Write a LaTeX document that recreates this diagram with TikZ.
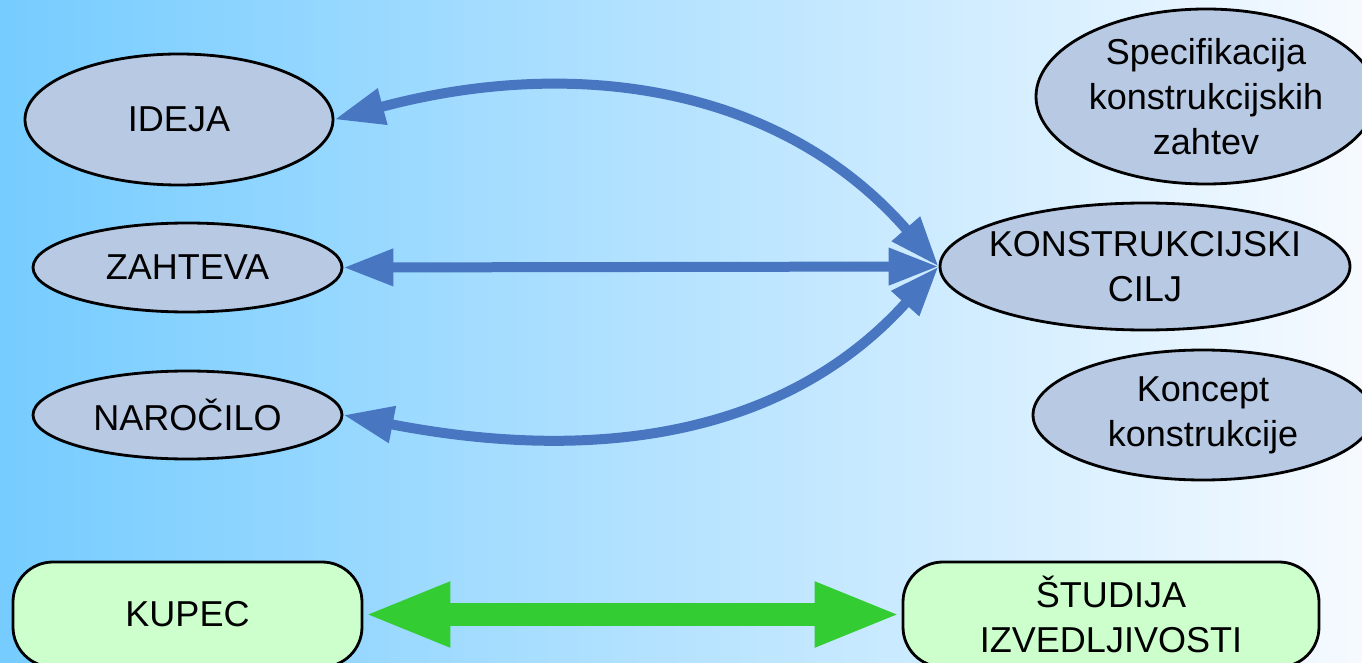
\documentclass[tikz,border=0pt]{standalone}
\usepackage{fontspec}
\setmainfont{Liberation Sans}
\usepackage{tikz}
\usetikzlibrary{positioning, shapes.geometric, arrows.meta}

\definecolor{bgleft}{RGB}{118,204,255}
\definecolor{bgright}{RGB}{246,250,255}
\definecolor{pojemfill}{RGB}{184,201,228}
\definecolor{blokfill}{RGB}{204,255,204}
\definecolor{modra}{RGB}{72,118,192}
\definecolor{zelena}{RGB}{51,204,51}

\tikzset{
  pojem/.style={ellipse, draw=black, line width=1.6pt, fill=pojemfill,
    inner sep=0pt, align=center, font=\fontsize{20.5}{25.5}\selectfont},
  blok/.style={rectangle, rounded corners=0.8cm, draw=black, line width=1.6pt,
    fill=blokfill, inner sep=0pt, minimum height=2.1cm, align=center,
    font=\fontsize{20.5}{25.5}\selectfont},
  povezava/.style={draw=modra, line width=0.2cm,
    {Triangle[length=1cm,width=0.7cm]}-{Triangle[length=1cm,width=0.7cm]}},
  debela/.style={draw=zelena, line width=0.46cm,
    {Triangle[length=1.74cm,width=1.18cm]}-{Triangle[length=1.74cm,width=1.18cm]}}
}

\begin{document}
\begin{tikzpicture}
% background
\useasboundingbox (0,0) rectangle (27.24,13.24);
\shade[left color=bgleft, right color=bgright] (0,0) rectangle (27.24,13.24);

% left ellipses
\node[pojem, minimum width=6.16cm, minimum height=2.62cm] (ideja) at (3.58,10.85) {IDEJA};
\node[pojem, minimum width=6.18cm, minimum height=1.78cm] (zahteva) at (3.75,7.89) {ZAHTEVA};
\node[pojem, minimum width=6.18cm, minimum height=1.76cm] (narocilo) at (3.75,4.94) {NAROČILO};

% right ellipses
\node[pojem, minimum width=6.8cm, minimum height=3.5cm] (spec) at (24.12,11.31)
    {Specifikacija\\konstrukcijskih\\zahtev};
\node[pojem, inner xsep=-0.45cm, minimum width=8.2cm, minimum height=2.54cm] (cilj) at (22.9,7.91)
    {KONSTRUKCIJSKI\\CILJ};
\node[pojem, minimum width=6.8cm, minimum height=2.6cm] (koncept) at (24.06,4.94)
    {Koncept\\konstrukcije};

% bottom boxes
\node[blok, minimum width=6.98cm] (kupec) at (3.75,0.95) {KUPEC};
\node[blok, minimum width=8.32cm] (studija) at (22.22,0.95) {ŠTUDIJA\\IZVEDLJIVOSTI};

% draw arrows
\draw[povezava] (ideja.east) to[out=15, in=131] (cilj.west);
\draw[povezava] (zahteva.east) -- (cilj.west);
\draw[povezava] (narocilo.east) to[out=-11, in=228] (cilj.west);
\draw[debela] (kupec.east) -- (studija.west);
\end{tikzpicture}
\end{document}
